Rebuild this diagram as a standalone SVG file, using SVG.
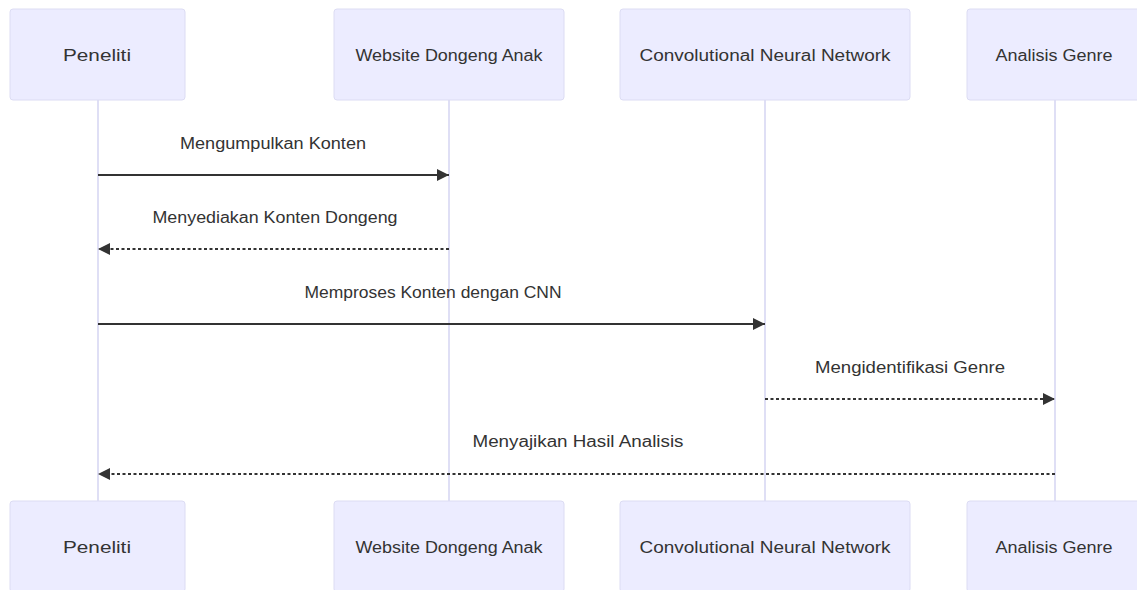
<svg xmlns="http://www.w3.org/2000/svg" width="1137" height="590" viewBox="0 0 1137 590">
<defs>
<style>
.actor{fill:#ECECFF;stroke:#dcdcf3;stroke-width:1}
.atext{font-family:"Liberation Sans",Arial,sans-serif;font-size:16px;fill:#333;text-anchor:middle;dominant-baseline:central}
.mtext{font-family:"Liberation Sans",Arial,sans-serif;font-size:16px;fill:#333;text-anchor:middle;dominant-baseline:central}
.life{stroke:#d4d4f2;stroke-width:1.5}
.solid{stroke:#333;stroke-width:2;fill:none}
.dash{stroke:#333;stroke-width:2;fill:none;stroke-dasharray:3,2.5}
</style>
<marker id="arrow" viewBox="0 0 12 12" refX="12" refY="6" markerWidth="12" markerHeight="12" markerUnits="userSpaceOnUse" orient="auto">
<path d="M0,0 L12,6 L0,12 z" fill="#333"/>
</marker>
</defs>
<rect width="1137" height="590" fill="#ffffff"/>
<g id="lifelines">
<line class="life" x1="98" y1="100" x2="98" y2="501"/>
<line class="life" x1="449" y1="100" x2="449" y2="501"/>
<line class="life" x1="765" y1="100" x2="765" y2="501"/>
<line class="life" x1="1055" y1="100" x2="1055" y2="501"/>
</g>
<g id="peneliti-top"><rect class="actor" x="10" y="9" width="175" height="91" rx="3"/><text class="atext" x="97" y="55" textLength="68" lengthAdjust="spacingAndGlyphs">Peneliti</text></g>
<g id="website-top"><rect class="actor" x="334" y="9" width="230" height="91" rx="3"/><text class="atext" x="449" y="55" textLength="187" lengthAdjust="spacingAndGlyphs">Website Dongeng Anak</text></g>
<g id="cnn-top"><rect class="actor" x="620" y="9" width="290" height="91" rx="3"/><text class="atext" x="765" y="55" textLength="251" lengthAdjust="spacingAndGlyphs">Convolutional Neural Network</text></g>
<g id="analisis-top"><rect class="actor" x="967" y="9" width="176" height="91" rx="3"/><text class="atext" x="1054" y="55" textLength="117" lengthAdjust="spacingAndGlyphs">Analisis Genre</text></g>
<g id="peneliti-bottom"><rect class="actor" x="10" y="501" width="175" height="91" rx="3"/><text class="atext" x="97" y="547" textLength="68" lengthAdjust="spacingAndGlyphs">Peneliti</text></g>
<g id="website-bottom"><rect class="actor" x="334" y="501" width="230" height="91" rx="3"/><text class="atext" x="449" y="547" textLength="187" lengthAdjust="spacingAndGlyphs">Website Dongeng Anak</text></g>
<g id="cnn-bottom"><rect class="actor" x="620" y="501" width="290" height="91" rx="3"/><text class="atext" x="765" y="547" textLength="251" lengthAdjust="spacingAndGlyphs">Convolutional Neural Network</text></g>
<g id="analisis-bottom"><rect class="actor" x="967" y="501" width="176" height="91" rx="3"/><text class="atext" x="1054" y="547" textLength="117" lengthAdjust="spacingAndGlyphs">Analisis Genre</text></g>
<g id="connectors">
<line class="solid" x1="98" y1="175" x2="449" y2="175" marker-end="url(#arrow)"/>
<line class="dash" x1="449" y1="249" x2="98" y2="249" marker-end="url(#arrow)"/>
<line class="solid" x1="98" y1="324" x2="765" y2="324" marker-end="url(#arrow)"/>
<line class="dash" x1="765" y1="399" x2="1055" y2="399" marker-end="url(#arrow)"/>
<line class="dash" x1="1055" y1="474" x2="98" y2="474" marker-end="url(#arrow)"/>
<text class="mtext" x="273" y="143" textLength="186" lengthAdjust="spacingAndGlyphs">Mengumpulkan Konten</text>
<text class="mtext" x="275" y="217" textLength="245" lengthAdjust="spacingAndGlyphs">Menyediakan Konten Dongeng</text>
<text class="mtext" x="433" y="292" textLength="257" lengthAdjust="spacingAndGlyphs">Memproses Konten dengan CNN</text>
<text class="mtext" x="910" y="367" textLength="190" lengthAdjust="spacingAndGlyphs">Mengidentifikasi Genre</text>
<text class="mtext" x="578" y="441" textLength="211" lengthAdjust="spacingAndGlyphs">Menyajikan Hasil Analisis</text>
</g>
</svg>
